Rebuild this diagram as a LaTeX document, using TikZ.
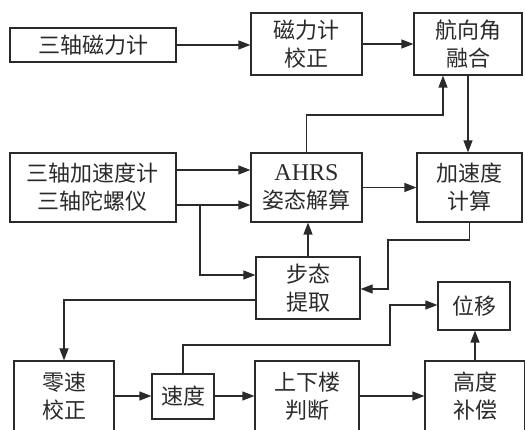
\documentclass[tikz,border=0pt]{standalone}
\usepackage{fontspec}
\setmainfont{Liberation Serif}
\newfontfamily\cjk{Noto Sans CJK SC}
\usetikzlibrary{arrows.meta,calc}
\definecolor{ink}{HTML}{2A2A2A}
\begin{document}
\begin{tikzpicture}[x=1pt,y=-1pt,
  box/.style={draw=ink,line width=1.2pt,rectangle,inner sep=0pt,align=center,text=ink,
    font=\cjk\fontsize{22}{28}\selectfont},
  arr/.style={draw=ink,line width=1.2pt,-{Triangle[length=12pt,width=9pt]}},
  ln/.style={draw=ink,line width=1.2pt}]
\useasboundingbox (0,0) rectangle (525,430);
\clip (0,0) rectangle (525,430);
\node[box,minimum width=166pt,minimum height=34pt] (mag) at (93,45) {三轴磁力计};
\node[box,minimum width=111pt,minimum height=62pt] (magc) at (306.5,44) {磁力计\\校正};
\node[box,minimum width=108pt,minimum height=62pt] (head) at (468,44) {航向角\\融合};
\node[box,minimum width=166pt,minimum height=69pt] (imu) at (93,187.5) {三轴加速度计\\三轴陀螺仪};
\node[box,minimum width=111pt,minimum height=69pt] (ahrs) at (306.5,187.5) {{\rmfamily\fontsize{24}{28}\selectfont AHRS}\\姿态解算};
\node[box,minimum width=105pt,minimum height=69pt] (acc) at (469.5,187.5) {加速度\\计算};
\node[box,minimum width=104pt,minimum height=62pt] (gait) at (308,288) {步态\\提取};
\node[box,minimum width=72pt,minimum height=48pt] (disp) at (474,306) {位移};
\node[box,minimum width=100pt,minimum height=70pt] (zv) at (64,396) {零速\\校正};
\node[box,minimum width=62pt,minimum height=45pt] (vel) at (183,396.5) {速度};
\node[box,minimum width=104pt,minimum height=70pt] (stair) at (307,396) {上下楼\\判断};
\node[box,minimum width=100pt,minimum height=70pt] (hc) at (475,396) {高度\\补偿};

\coordinate (h1) at ([xshift=-25pt]head.south);
\coordinate (j) at (200,205);

\draw[arr] (mag.east) -- (magc.west |- mag.east);
\draw[arr] (magc.east) -- (head.west |- magc.east);
\draw[arr] (ahrs.north) -- (ahrs.north |- 0,115) -| (h1);
\draw[arr] (head.south) -- (head.south |- acc.north);
\draw[arr] (imu.east |- 0,170) -- (ahrs.west |- 0,170);
\draw[arr] (imu.east |- 0,205) -- (ahrs.west |- 0,205);
\draw[arr] (ahrs.east) -- (acc.west |- ahrs.east);
\draw[arr] (j) |- (gait.west |- 0,275);
\draw[arr] (acc.south) -- (acc.south |- 0,240) -| (388,289) -- (gait.east |- 0,289);
\draw[arr] (gait.north) -- (gait.north |- ahrs.south);
\draw[arr] (gait.west |- 0,300) -| (zv.north);
\draw[arr] (zv.east) -- (vel.west |- zv.east);
\draw[arr] (vel.east |- zv.east) -- (stair.west |- zv.east);
\draw[arr] (stair.east) -- (hc.west |- stair.east);
\draw[arr] (hc.north) -- (hc.north |- disp.south);
\draw[arr] (vel.north) -- (vel.north |- 0,345) -| (390,305) -- (disp.west |- 0,305);
\end{tikzpicture}
\end{document}
